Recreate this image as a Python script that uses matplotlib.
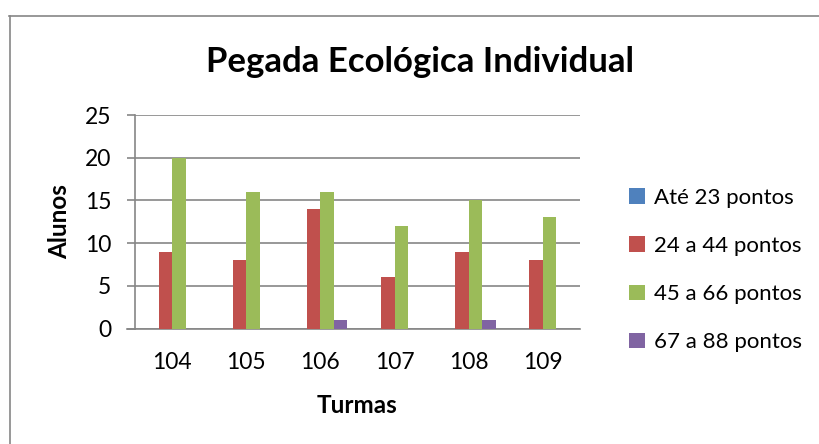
import numpy as np
import matplotlib.pyplot as plt
from matplotlib.lines import Line2D

turmas = ['104', '105', '106', '107', '108', '109']
series_names = ['Até 23 pontos', '24 a 44 pontos', '45 a 66 pontos', '67 a 88 pontos']
ate_23 = [0, 0, 0, 0, 0, 0]
de_24_44 = [9, 8, 14, 6, 9, 8]
de_45_66 = [20, 16, 16, 12, 15, 13]
de_67_88 = [0, 0, 1, 0, 1, 0]
colors = ['#4F81BD', '#C0504D', '#9BBB59', '#8064A2']

plt.rcParams['font.family'] = ['Lato', 'DejaVu Sans']
W, H = 819, 444
fig = plt.figure(figsize=(W / 100, H / 100), dpi=100)
ax = fig.add_axes([135 / W, (H - 328.5) / H, (580 - 135) / W, (328.5 - 115) / H])

grid_col = '#868686'
x = np.arange(len(turmas))
w = 1 / 5.5
for i, (vals, name) in enumerate(zip([ate_23, de_24_44, de_45_66, de_67_88], series_names)):
    ax.bar(x + (i - 1.5) * w, vals, width=w, color=colors[i], label=name, zorder=3)

ax.set_xlim(-0.5, len(turmas) - 0.5)
ax.set_ylim(0, 25)
ax.set_yticks(range(0, 26, 5))
ax.set_xticks(x)
ax.set_xticklabels(turmas)
ax.yaxis.grid(True, color=grid_col, linewidth=1.2, zorder=0)
for s in ['top', 'right']:
    ax.spines[s].set_visible(False)
for s in ['left', 'bottom']:
    ax.spines[s].set_color(grid_col)
    ax.spines[s].set_linewidth(1.2)
ax.tick_params(axis='y', length=6, width=1.2, color=grid_col, labelsize=16.5, pad=11)
ax.tick_params(axis='x', length=0, labelsize=16.5, pad=17)

# extend bottom line to the left like the y tick marks
ax.plot([-0.5 - 8 / 74.2, -0.5], [0, 0], color=grid_col, lw=1.2, clip_on=False)

ax.set_ylabel('Alunos', fontsize=17.5, fontweight='bold', labelpad=10)
ax.set_xlabel('Turmas', fontsize=17.5, fontweight='bold', labelpad=15)
fig.text(420 / W, 1 - 62 / H, 'Pegada Ecológica Individual', fontsize=25, fontweight='bold',
         ha='center', va='center')

ax.legend(loc='center left', bbox_to_anchor=(618 / W, 1 - 270 / H), bbox_transform=fig.transFigure,
          frameon=False, fontsize=16, handlelength=0.7, handleheight=0.7, handletextpad=0.4,
          labelspacing=1.27, borderpad=0)

# outer chart border
fig.add_artist(Line2D([9.5 / W, 9.5 / W], [0, 1 - 16 / H], color=grid_col, lw=1.2))
fig.add_artist(Line2D([9 / W, 1], [1 - 16.5 / H, 1 - 16.5 / H], color=grid_col, lw=1.2))

fig.savefig('out.png', dpi=100)
